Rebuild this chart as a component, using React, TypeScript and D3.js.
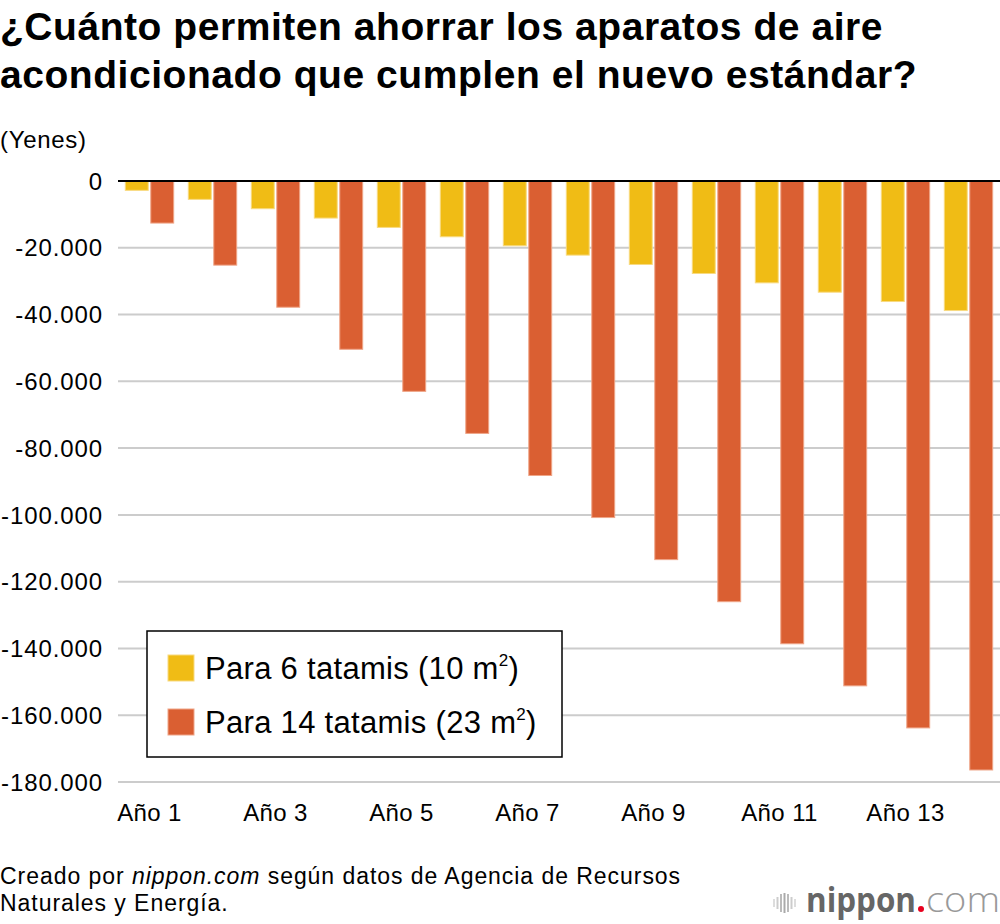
import React from "react";
import * as d3 from "d3";

const years = ["Año 1", "Año 2", "Año 3", "Año 4", "Año 5", "Año 6", "Año 7", "Año 8", "Año 9", "Año 10", "Año 11", "Año 12", "Año 13", "Año 14"];
const seriesNames = ["Para 6 tatamis (10 m", "Para 14 tatamis (23 m"];
const sixTatami = [-2800, -5500, -8300, -11100, -13900, -16700, -19400, -22200, -25000, -27700, -30500, -33300, -36100, -38800];
const fourteenTatami = [-12600, -25200, -37800, -50400, -63000, -75600, -88200, -100800, -113400, -126000, -138600, -151200, -163800, -176400];
const yTicks = [0, -20000, -40000, -60000, -80000, -100000, -120000, -140000, -160000, -180000];
const xTickLabels = ["Año 1", "Año 3", "Año 5", "Año 7", "Año 9", "Año 11", "Año 13"];

const colors = ["#F0BC15", "#DA5F32"];
const strokes = ["#F8DA80", "#EFA588"];
const font = "'Liberation Sans', Arial, Helvetica, sans-serif";

const W = 1000;
const H = 924;

const esFormat = d3.formatLocale({
  decimal: ",",
  thousands: ".",
  grouping: [3],
  currency: ["", ""],
  minus: "-",
}).format(",");

export default function App() {
  const x0 = d3.scaleBand().domain(years).range([118, 1000]).paddingInner(0.232).paddingOuter(0.116);
  const x1 = d3.scaleBand().domain(["a", "b"]).range([0, x0.bandwidth()]).paddingInner(0.1);
  const y = d3.scaleLinear().domain([-180000, 0]).range([782, 181]);

  const series = [sixTatami, fourteenTatami];
  const keys = ["a", "b"];

  return (
    <svg width={W} height={H} style={{ position: "absolute", left: 0, top: 0, background: "#fff" }} fontFamily={font}>
      {/* title */}
      <text x={0} y={40} fontSize={39} fontWeight="bold" fill="#000" letterSpacing={0.55}>¿Cuánto permiten ahorrar los aparatos de aire</text>
      <text x={0} y={88} fontSize={39} fontWeight="bold" fill="#000" letterSpacing={0.55}>acondicionado que cumplen el nuevo estándar?</text>

      <text x={0} y={148} fontSize={24} fill="#000" letterSpacing={0.7}>(Yenes)</text>

      {/* gridlines */}
      {yTicks.filter((t) => t !== 0).map((t) => (
        <line key={t} x1={118} x2={W} y1={y(t)} y2={y(t)} stroke="#cccccc" strokeWidth={2} />
      ))}
      {yTicks.map((t) => (
        <text key={"l" + t} x={103} y={y(t)} dy="0.36em" textAnchor="end" fontSize={24} fill="#000" letterSpacing={0.9}>
          {esFormat(t)}
        </text>
      ))}

      {/* bars */}
      {series.map((vals, si) =>
        vals.map((v, i) => (
          <rect
            key={si + "-" + i}
            x={(x0(years[i]) ?? 0) + (x1(keys[si]) ?? 0)}
            y={y(0)}
            width={x1.bandwidth()}
            height={y(v) - y(0)}
            fill={colors[si]}
            stroke={strokes[si]}
            strokeWidth={1}
          />
        ))
      )}

      {/* zero line */}
      <line x1={118} x2={W} y1={y(0)} y2={y(0)} stroke="#000" strokeWidth={2} />

      {/* x labels */}
      {xTickLabels.map((l) => (
        <text key={l} x={(x0(l) ?? 0) + x0.bandwidth() / 2} y={821} textAnchor="middle" fontSize={24} fill="#000" letterSpacing={0.4}>
          {l}
        </text>
      ))}

      {/* legend */}
      <rect x={147} y={631} width={415} height={126} fill="#fff" stroke="#000" strokeWidth={1.5} />
      {seriesNames.map((n, i) => (
        <g key={n} transform={`translate(168, ${655 + i * 54})`}>
          <rect x={0} y={0} width={26} height={26} fill={colors[i]} stroke={strokes[i]} strokeWidth={1} />
          <text x={37} y={24} fontSize={31} fill="#000" letterSpacing={0.3}>
            {n}
            <tspan fontSize={17} dy={-13}>2</tspan>
            <tspan dy={13}>)</tspan>
          </text>
        </g>
      ))}

      {/* footer */}
      <text x={0} y={884} fontSize={23} fill="#000" letterSpacing={0.95}>
        Creado por <tspan fontStyle="italic">nippon.com</tspan> según datos de Agencia de Recursos
      </text>
      <text x={0} y={911} fontSize={23} fill="#000" letterSpacing={0.95}>Naturales y Energía.</text>

      {/* logo */}
      <g>
        {[0, 3.5, 7, 10.5, 14, 17.5, 21].map((dx, i) => (
          <line
            key={i}
            x1={774 + dx}
            x2={774 + dx}
            y1={903 - [4, 6, 9, 10, 9, 6, 4][i]}
            y2={903 + [4, 6, 9, 10, 9, 6, 4][i]}
            stroke={["#ddd", "#ccc", "#bbb", "#aaa", "#bbb", "#ccc", "#ddd"][i]}
            strokeWidth={2}
          />
        ))}
        <text x={806} y={912} fontFamily="'Open Sans', sans-serif" fontWeight="bold" fontSize={34} fill="#666" textLength={110} lengthAdjust="spacingAndGlyphs">
          nippon
        </text>
        <circle cx={921} cy={909} r={3} fill="#e8001e" />
        <text x={926} y={912} fontFamily="'Open Sans', sans-serif" fontWeight="300" fontSize={34} fill="#999" textLength={74} lengthAdjust="spacingAndGlyphs">
          com
        </text>
      </g>
    </svg>
  );
}
